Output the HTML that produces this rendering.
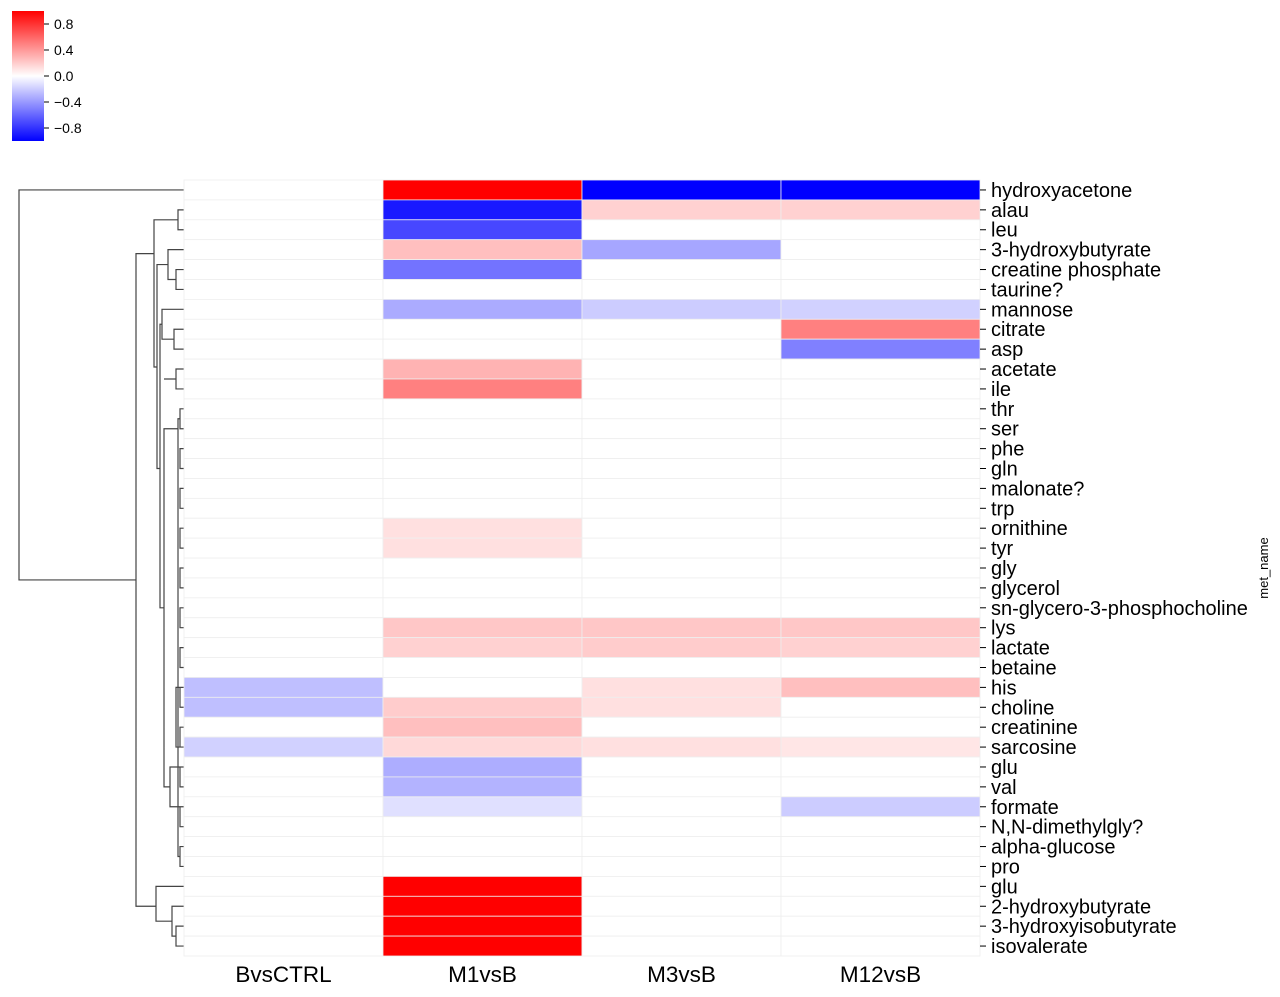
<!DOCTYPE html>
<html><head><meta charset="utf-8"><style>
body{margin:0;background:#fff;}
svg{display:block;font-family:"Liberation Sans","DejaVu Sans",sans-serif;}
</style></head><body>
<svg id="chart" width="1280" height="997" viewBox="0 0 1280 997" xmlns="http://www.w3.org/2000/svg">
<defs><linearGradient id="cb" x1="0" y1="1" x2="0" y2="0">
<stop offset="0" stop-color="#0000ff"/><stop offset="0.5" stop-color="#ffffff"/><stop offset="1" stop-color="#ff0000"/></linearGradient></defs>
<g id="colorbar">
<rect x="12" y="11" width="32" height="130" fill="url(#cb)"/>
</g>
<g id="dendro" stroke="#444" stroke-width="1.2" fill="none"></g>
<g id="heat"></g>
<g id="rowlabels"></g>
<g id="collabels"></g>
<text x="1268" y="568" font-size="13" text-anchor="middle" transform="rotate(-90 1268 568)">met_name</text>
</svg>
<script>
const columns = ["BvsCTRL","M1vsB","M3vsB","M12vsB"];
const rows = ["hydroxyacetone","alau","leu","3-hydroxybutyrate","creatine phosphate","taurine?","mannose","citrate","asp","acetate","ile","thr","ser","phe","gln","malonate?","trp","ornithine","tyr","gly","glycerol","sn-glycero-3-phosphocholine","lys","lactate","betaine","his","choline","creatinine","sarcosine","glu","val","formate","N,N-dimethylgly?","alpha-glucose","pro","glu","2-hydroxybutyrate","3-hydroxyisobutyrate","isovalerate"];
const colBvsCTRL = [0,0,0,0,0,0,0,0,0,0,0,0,0,0,0,0,0,0,0,0,0,0,0,0,0,-0.25,-0.25,0,-0.18,0,0,0,0,0,0,0,0,0,0];
const colM1vsB = [1,-0.9,-0.72,0.25,-0.55,0,-0.33,0,0,0.3,0.5,0,0,0,0,0,0,0.12,0.12,0,0,0,0.22,0.18,0,0,0.2,0.25,0.15,-0.32,-0.3,-0.12,0,0,0,1,1,1,1];
const colM3vsB = [-1,0.18,0,-0.35,0,0,-0.2,0,0,0,0,0,0,0,0,0,0,0,0,0,0,0,0.22,0.2,0,0.12,0.12,0,0.12,0,0,0,0,0,0,0,0,0,0];
const colM12vsB = [-1,0.18,0,0,0,0,-0.18,0.5,-0.5,0,0,0,0,0,0,0,0,0,0,0,0,0,0.22,0.18,0,0.25,0,0,0.1,0,0,-0.2,0,0,0,0,0,0,0];
const cbTicks = [0.8,0.4,0,-0.4,-0.8];
const cbLabels = ["0.8","0.4","0.0","\u22120.4","\u22120.8"];
const series = [colBvsCTRL,colM1vsB,colM3vsB,colM12vsB];
const NS="http://www.w3.org/2000/svg";
const X0=184,X1=980,Y0=180,Y1=956;
const cw=(X1-X0)/columns.length, rh=(Y1-Y0)/rows.length;
const xPos=j=>X0+j*cw, yPos=i=>Y0+i*rh, yMid=i=>Y0+(i+0.5)*rh;
const cbY=v=>76-v*65;
function color(v){v=Math.max(-1,Math.min(1,v));
 if(v>=0){const c=Math.round(255*(1-v));return `rgb(255,${c},${c})`;}
 const c=Math.round(255*(1+v));return `rgb(${c},${c},255)`;}
const heat=document.getElementById('heat');
series.forEach((s,j)=>s.forEach((v,i)=>{
 const r=document.createElementNS(NS,'rect');
 r.setAttribute('x',xPos(j));r.setAttribute('y',yPos(i));
 r.setAttribute('width',cw);r.setAttribute('height',rh);
 r.setAttribute('fill',color(v));r.setAttribute('stroke','#eeeeee');r.setAttribute('stroke-width','0.8');
 
 
 heat.appendChild(r);
}));
const rl=document.getElementById('rowlabels');
rows.forEach((name,i)=>{
 const t=document.createElementNS(NS,'line');
 t.setAttribute('x1',X1);t.setAttribute('x2',X1+6);t.setAttribute('y1',yMid(i));t.setAttribute('y2',yMid(i));t.setAttribute('stroke','#000');
 
 
 rl.appendChild(t);
 const tx=document.createElementNS(NS,'text');
 tx.setAttribute('x',991);tx.setAttribute('y',yMid(i)+7);tx.setAttribute('font-size','20');
 tx.textContent=name;
 
 
 rl.appendChild(tx);
});
const cl=document.getElementById('collabels');
columns.forEach((c,j)=>{
 const tx=document.createElementNS(NS,'text');
 tx.setAttribute('x',xPos(j)+cw/2);tx.setAttribute('y',982);tx.setAttribute('font-size','22.5');tx.setAttribute('text-anchor','middle');
 tx.textContent=c;
 
 
 cl.appendChild(tx);
});
const cb=document.getElementById('colorbar');
cbTicks.forEach((v,k)=>{
 const l=document.createElementNS(NS,'line');
 l.setAttribute('x1',44);l.setAttribute('x2',49);l.setAttribute('y1',cbY(v));l.setAttribute('y2',cbY(v));l.setAttribute('stroke','#000');
 
 
 cb.appendChild(l);
 const t=document.createElementNS(NS,'text');
 t.setAttribute('x',54);t.setAttribute('y',cbY(v)+5);t.setAttribute('font-size','14');
 t.textContent=cbLabels[k];
 
 
 cb.appendChild(t);
});
const d=document.getElementById('dendro');
let path='';
function link(x,ya,yb,xa,xb){path+=`M${xa},${ya}H${x}V${yb}H${xb}`;}
const m=yMid;
link(176,m(37),m(38),184,184);
link(172,m(36),(m(37)+m(38))/2,184,176);
link(156,m(35),(m(36)+m(37.5))/2,184,172);
link(178,m(1),m(2),184,184);link(170,m(1.5),m(1.5),178,178);
link(176,m(4),m(5),184,184);link(168,m(3),m(4.5),184,176);
link(174,m(7),m(8),184,184);link(162,m(6),m(7.5),184,174);
link(176,m(9),m(10),184,184);link(164,m(9.5),m(9.5),176,176);
for(let i=11;i<34;i+=2){link(180,m(i),m(i+1),184,184);}
link(178,m(11.5),m(33.5),180,180);
link(176,m(25),m(28),184,184);
link(170,m(29),m(31),184,184);
link(164,m(12),m(30),178,170);
link(160,m(6.75),m(21),162,164);
link(157,m(3.75),m(14),168,160);
link(154,m(1.5),m(8.9),170,157);
link(136,m(3.2),m(36),154,156);
link(19,m(0),(m(3.2)+m(36))/2,184,136);
const p=document.createElementNS(NS,'path');p.setAttribute('d',path);


d.appendChild(p);
</script>
</body></html>
